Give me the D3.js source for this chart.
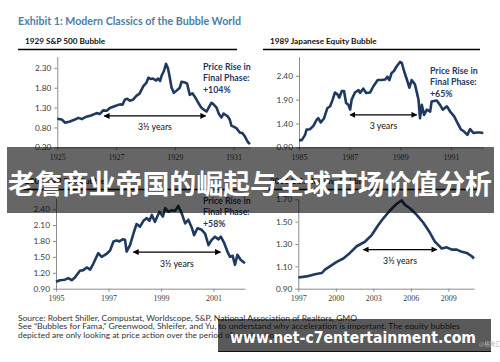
<!DOCTYPE html>
<html>
<head>
<meta charset="utf-8">
<script src="https://cdn.jsdelivr.net/npm/d3@7/dist/d3.min.js"></script>
<style>
  body { margin: 0; background: #fff; }
  svg { display: block; font-family: Lato, "Open Sans", sans-serif; }
</style>
</head>
<body>
<div id="chart"></div>
<script>
// 1. Data (index = 1.00 at start)

const spxYears = [1925.00,1925.15,1925.27,1925.43,1925.60,1925.72,1925.83,1925.99,1926.15,1926.34,
  1926.45,1926.56,1926.68,1926.79,1926.97,1927.13,1927.22,1927.30,1927.38,1927.47,
  1927.58,1927.70,1927.80,1927.93,1928.03,1928.10,1928.18,1928.26,1928.36,1928.43,
  1928.50,1928.55,1928.63,1928.70,1928.77,1928.83,1928.89,1928.97,1929.05,1929.17,
  1929.23,1929.35,1929.42,1929.51,1929.60,1929.70,1929.80,1929.90,1930.00,1930.08,
  1930.20,1930.25,1930.32,1930.42,1930.50,1930.59,1930.66,1930.72,1930.80,1930.87,
  1930.93,1931.00,1931.10,1931.21,1931.30,1931.38,1931.45,1931.50,1931.56]
const spxValues = [1.02,1.00,0.92,0.95,1.00,1.04,1.01,1.07,1.10,1.16,
  1.14,1.23,1.22,1.29,1.34,1.38,1.37,1.50,1.52,1.47,
  1.50,1.60,1.65,1.84,1.92,2.05,2.02,2.03,1.98,2.03,
  1.97,2.10,2.22,2.40,2.28,2.05,1.80,1.67,1.72,1.80,
  1.95,1.93,1.90,1.62,1.66,1.55,1.42,1.30,1.24,1.20,
  1.36,1.42,1.38,1.30,1.14,1.05,1.15,1.12,1.08,1.00,
  0.84,0.82,0.78,0.67,0.66,0.58,0.48,0.42,0.38]

const japanYears = [1985.00,1985.11,1985.24,1985.30,1985.43,1985.57,1985.70,1985.76,1985.86,1985.99,
  1986.12,1986.23,1986.33,1986.42,1986.52,1986.59,1986.69,1986.78,1986.86,1986.95,
  1987.02,1987.08,1987.21,1987.35,1987.41,1987.54,1987.65,1987.81,1987.94,1988.11,
  1988.27,1988.40,1988.49,1988.57,1988.66,1988.75,1988.86,1988.99,1989.06,1989.15,
  1989.28,1989.36,1989.45,1989.58,1989.72,1989.78,1989.85,1989.94,1990.05,1990.18,
  1990.24,1990.44,1990.57,1990.68,1990.84,1990.97,1991.13,1991.26,1991.39,1991.52,
  1991.65,1991.76,1991.89,1992.02,1992.15,1992.28]
const japanValues = [1.05,1.05,1.16,1.27,1.28,1.35,1.48,1.51,1.42,1.51,
  1.72,1.76,1.90,2.05,2.01,1.94,2.08,2.08,1.83,1.79,
  1.69,1.90,2.05,2.10,2.04,2.13,2.04,2.05,2.18,2.31,
  2.31,2.32,2.38,2.31,2.46,2.50,2.60,2.69,2.67,2.50,
  2.29,2.15,2.31,2.22,1.90,1.51,1.79,1.58,1.69,1.65,
  1.86,1.88,1.79,1.69,1.76,1.65,1.55,1.41,1.28,1.23,
  1.16,1.28,1.20,1.21,1.21,1.20]

const techYears = [1995.00,1995.15,1995.34,1995.47,1995.60,1995.72,1995.91,1996.04,1996.17,1996.30,
  1996.42,1996.61,1996.74,1996.91,1997.06,1997.19,1997.31,1997.41,1997.54,1997.63,
  1997.69,1997.82,1997.95,1998.07,1998.20,1998.33,1998.46,1998.56,1998.65,1998.77,
  1998.94,1999.07,1999.16,1999.28,1999.41,1999.54,1999.66,1999.79,1999.92,2000.04,
  2000.18,2000.26,2000.39,2000.55,2000.68,2000.81,2000.93,2001.06,2001.19,2001.28,
  2001.40,2001.53,2001.63,2001.73,2001.82,2001.91,2002.04,2002.20]
const techValues = [1.03,1.06,1.07,1.10,1.06,1.11,1.24,1.25,1.30,1.26,
  1.37,1.57,1.50,1.55,1.62,1.79,1.81,1.79,1.83,1.82,
  1.60,1.72,1.94,2.12,2.07,2.18,2.23,2.18,2.29,2.16,
  2.35,2.26,2.42,2.35,2.38,2.37,2.46,2.32,2.13,2.20,
  2.04,1.91,2.04,2.01,1.94,1.72,1.82,1.88,1.83,1.88,
  1.77,1.60,1.50,1.52,1.35,1.54,1.44,1.38]

const housingYears = [1997.00,1997.67,1998.33,1998.87,1999.13,1999.53,2000.07,2000.60,2001.13,2001.67,
  2002.33,2002.87,2003.40,2003.80,2004.33,2004.87,2005.27,2005.53,2005.93,2006.47,
  2007.00,2007.53,2007.93,2008.20,2008.47,2008.87,2009.27,2009.67,2010.07,2010.47,
  2010.87,2011.05]
const housingValues = [1.00,1.01,1.03,1.04,1.07,1.10,1.14,1.17,1.22,1.28,
  1.32,1.38,1.47,1.53,1.60,1.66,1.69,1.65,1.62,1.56,
  1.49,1.40,1.32,1.29,1.26,1.27,1.25,1.25,1.23,1.22,
  1.19,1.17]

const panelTitles = ["1929 S&P 500 Bubble", "1989 Japanese Equity Bubble",
  "2000 S&P 500 Bubble", "2006 U.S. Housing Bubble"]
const priceRise = ["+104%", "+65%", "+58%", null]
const spanLabels = ["3½ years", "3 years", "3½ years", "3½ years"]
const spanStart = [1926.60, 1987.02, 1997.95, 2002.20]
const spanEnd = [1930.05, 1989.65, 2001.26, 2008.07]
const spanLevel = [1.09, 1.58, 1.59, 1.25]

const spxYTicks = [0.30, 0.80, 1.30, 1.80, 2.30]
const japanYTicks = [0.90, 1.40, 1.90, 2.40]
const techYTicks = [0.90, 1.20, 1.50, 1.80, 2.10, 2.40]
const housingYTicks = [0.90, 1.10, 1.30, 1.50, 1.70]

const spxXTicks = [1925, 1927, 1929, 1931]
const japanXTicks = [1985, 1987, 1989, 1991]
const techXTicks = [1995, 1997, 1999, 2001]
const housingXTicks = [1997, 2000, 2003, 2006, 2009]

const sourceLines = [
  "Source: Robert Shiller, Compustat, Worldscope, S&P, National Association of Realtors, GMO",
  "See \u201cBubbles for Fama,\u201d Greenwood, Shleifer, and Yu, to understand why acceleration is important. The equity bubbles",
  "depicted are only looking at price action over the period of acceleration."
]
const sourceWidths = [339, 442, null]

// 2. Dimensions

const width = 500
const height = 362

const panels = [
  { years: spxYears, values: spxValues, xTicks: spxXTicks, yTicks: spxYTicks,
    xDomain: [1925, 1931.56], yDomain: [0.30, 2.58],
    left: 57.3, right: 250, top: 56.7, bottom: 147.3,
    ruleY: 49.5, rule: [18, 237], titleX: 25, noteX: 203, noteY: 69.5 },
  { years: japanYears, values: japanValues, xTicks: japanXTicks, yTicks: japanYTicks,
    xDomain: [1985, 1992.28], yDomain: [0.90, 2.80],
    left: 299, right: 483.3, top: 56.7, bottom: 147.3,
    ruleY: 49.5, rule: [263, 480], titleX: 270, noteX: 430, noteY: 73.5 },
  { years: techYears, values: techValues, xTicks: techXTicks, yTicks: techYTicks,
    xDomain: [1995, 2002.2], yDomain: [0.90, 2.60],
    left: 56, right: 245, top: 198.5, bottom: 288.7,
    ruleY: 189.5, rule: [18, 237], titleX: 25, noteX: 203, noteY: 203.5 },
  { years: housingYears, values: housingValues, xTicks: housingXTicks, yTicks: housingYTicks,
    xDomain: [1997, 2011.05], yDomain: [0.90, 1.70],
    left: 298.3, right: 474, top: 199.3, bottom: 288.7,
    ruleY: 189.5, rule: [263, 480], titleX: 270, noteX: 430, noteY: 203.5 },
]

// 3. Draw canvas

const svg = d3.select("#chart")
  .append("svg")
    .attr("width", width)
    .attr("height", height)

svg.append("rect")
    .attr("width", width)
    .attr("height", height)
    .attr("fill", "#fff")

const defs = svg.append("defs")
defs.append("marker")
    .attr("id", "arrow")
    .attr("viewBox", "0 0 8 8")
    .attr("refX", 7)
    .attr("refY", 4)
    .attr("markerWidth", 6)
    .attr("markerHeight", 6)
    .attr("markerUnits", "userSpaceOnUse")
    .attr("orient", "auto-start-reverse")
  .append("path")
    .attr("d", "M0,0 L8,4 L0,8 z")
    .attr("fill", "#000")

svg.append("text")
    .attr("x", 18)
    .attr("y", 25)
    .attr("fill", "#4d7ea8")
    .attr("font-size", 10.5)
    .attr("font-weight", 700)
    .attr("textLength", 223)
    .attr("lengthAdjust", "spacingAndGlyphs")
    .text("Exhibit 1: Modern Classics of the Bubble World")

// 4. Panels

panels.forEach((p, i) => {
  const x = d3.scaleLinear().domain(p.xDomain).range([p.left, p.right])
  const y = d3.scaleLinear().domain(p.yDomain).range([p.bottom, p.top])
  const g = svg.append("g")

  g.append("text")
      .attr("x", p.titleX)
      .attr("y", p.ruleY - 6)
      .attr("font-size", 8.2)
      .attr("font-weight", 700)
      .attr("fill", "#111")
      .text(panelTitles[i])

  g.append("line")
      .attr("x1", p.rule[0]).attr("x2", p.rule[1])
      .attr("y1", p.ruleY).attr("y2", p.ruleY)
      .attr("stroke", "#000")
      .attr("stroke-width", 1.4)

  const yAxis = g.append("g")
      .attr("transform", `translate(${p.left},0)`)
      .call(d3.axisLeft(y).tickValues(p.yTicks).tickFormat(d3.format(".2f"))
        .tickSize(3).tickSizeOuter(0).tickPadding(3))
  yAxis.selectAll("text")
      .attr("font-family", "Lato, sans-serif")
      .attr("font-size", 8.3)
      .attr("fill", "#404040")

  const xAxis = g.append("g")
      .attr("transform", `translate(0,${p.bottom})`)
      .call(d3.axisBottom(x).tickValues(p.xTicks).tickFormat(d3.format("d"))
        .tickSize(3).tickSizeOuter(0).tickPadding(4))
  xAxis.selectAll("text")
      .attr("font-family", "'Liberation Serif', serif")
      .attr("font-size", 8)
      .attr("fill", "#404040")

  svg.selectAll(".domain, .tick line").attr("stroke", "#8c8c8c")

  const line = d3.line()
      .x(d => x(d[0]))
      .y(d => y(d[1]))

  g.append("path")
      .datum(d3.zip(p.years, p.values))
      .attr("d", line)
      .attr("fill", "none")
      .attr("stroke", "#1f3a60")
      .attr("stroke-width", 2.6)
      .attr("stroke-linejoin", "round")

  g.append("line")
      .attr("x1", x(spanStart[i])).attr("x2", x(spanEnd[i]))
      .attr("y1", y(spanLevel[i])).attr("y2", y(spanLevel[i]))
      .attr("stroke", "#000")
      .attr("stroke-width", 1.3)
      .attr("marker-start", "url(#arrow)")
      .attr("marker-end", "url(#arrow)")

  g.append("text")
      .attr("x", (x(spanStart[i]) + x(spanEnd[i])) / 2)
      .attr("y", y(spanLevel[i]) + 14.5)
      .attr("text-anchor", "middle")
      .attr("font-size", 8.8)
      .attr("fill", "#111")
      .text(spanLabels[i])

  if (priceRise[i]) {
    const note = g.append("text")
        .attr("x", p.noteX)
        .attr("y", p.noteY)
        .attr("font-size", 8.8)
        .attr("font-weight", 700)
        .attr("fill", "#1f3864")
    ;["Price Rise in", "Final Phase:", priceRise[i]].forEach((t, k) => {
      note.append("tspan")
          .attr("x", p.noteX)
          .attr("dy", k === 0 ? 0 : 11.8)
          .text(t)
    })
  }
})

// 5. Source notes

const notes = svg.append("g")
  .selectAll("text")
  .data(sourceLines)
  .join("text")
    .attr("x", 18)
    .attr("y", (d, i) => 320.5 + i * 8.7)
    .attr("font-size", 8.4)
    .attr("fill", "#333")
    .text(d => d)
notes.filter((d, i) => sourceWidths[i])
    .attr("textLength", (d, i, nodes) => sourceWidths[sourceLines.indexOf(d)])
    .attr("lengthAdjust", "spacingAndGlyphs")

// 6. Overlays (watermark banner and site stamp)

svg.append("rect")
    .attr("x", 7).attr("y", 147)
    .attr("width", 487).attr("height", 66)
    .attr("fill", "rgba(0,0,0,0.6)")

svg.append("text")
    .attr("x", 250)
    .attr("y", 193.5)
    .attr("text-anchor", "middle")
    .attr("font-family", "'Noto Sans CJK SC', sans-serif")
    .attr("font-weight", 700)
    .attr("font-size", 27)
    .attr("fill", "#fff")
    .attr("textLength", 484)
    .attr("lengthAdjust", "spacingAndGlyphs")
    .text("老詹商业帝国的崛起与全球市场价值分析")

svg.append("rect")
    .attr("x", 218).attr("y", 319)
    .attr("width", 273).attr("height", 33)
    .attr("fill", "rgba(0,0,0,0.65)")

svg.append("line")
    .attr("x1", 218).attr("x2", 491)
    .attr("y1", 351.5).attr("y2", 351.5)
    .attr("stroke", "#111")
    .attr("stroke-width", 1.2)

svg.append("text")
    .attr("x", 230)
    .attr("y", 343.3)
    .attr("font-family", "'DejaVu Sans', sans-serif")
    .attr("font-weight", 700)
    .attr("font-size", 16)
    .attr("fill", "#fff")
    .attr("textLength", 246)
    .attr("lengthAdjust", "spacingAndGlyphs")
    .text("www.net-c7entertainment.com")

svg.append("text")
    .attr("x", 479)
    .attr("y", 345.5)
    .attr("font-family", "'Noto Sans CJK SC', sans-serif")
    .attr("font-size", 5.5)
    .attr("fill", "#bbb")
    .text("@格隆汇")
</script>
</body>
</html>
